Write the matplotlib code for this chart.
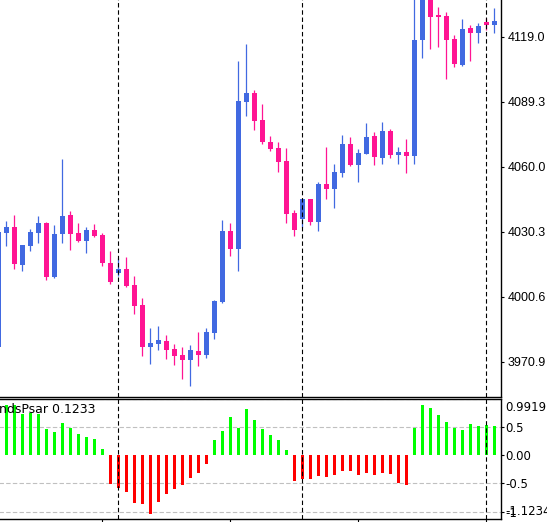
import numpy as np
import matplotlib.pyplot as plt

W, H = 547, 522

# candles, oldest first (first one is only partly visible at the left edge)
opens = [3977.6, 4029.8, 4032.5, 4015.2, 4023.9, 4029.8, 4034.3, 4009.7, 4029.4, 4037.9,
         4029.7, 4026.2, 4031.1, 4028.8, 4016.0, 4011.6, 4013.3, 4005.9, 3996.8, 3977.8,
         3979.1, 3980.4, 3976.7, 3974.0, 3971.8, 3975.8, 3974.1, 3984.2, 3998.3, 4030.6,
         4022.5, 4089.7, 4093.7, 4081.3, 4071.3, 4068.5, 4062.6, 4038.8, 4036.2, 4045.2,
         4034.9, 4052.1, 4050.0, 4057.3, 4070.4, 4060.9, 4065.9, 4074.0, 4064.1, 4076.3,
         4065.5, 4066.7, 4065.0, 4117.9, 4139.8, 4129.3, 4129.0, 4118.3, 4106.6, 4123.4,
         4121.2, 4126.1, 4124.9]
highs = [4031.0, 4035.2, 4037.9, 4024.2, 4031.5, 4037.5, 4034.7, 4033.4, 4063.5, 4039.8,
         4034.3, 4032.5, 4033.8, 4029.7, 4021.5, 4018.4, 4018.9, 4010.1, 4000.0, 3986.3,
         3987.2, 3983.1, 3979.0, 3977.6, 3978.5, 3984.5, 3986.3, 3999.1, 4035.6, 4034.3,
         4108.3, 4116.1, 4095.0, 4088.7, 4074.0, 4071.3, 4068.5, 4040.2, 4045.2, 4045.2,
         4053.0, 4069.0, 4061.2, 4074.5, 4073.6, 4068.1, 4080.0, 4075.9, 4080.4, 4077.2,
         4069.0, 4072.7, 4138.9, 4143.0, 4141.5, 4133.1, 4130.8, 4120.2, 4127.5, 4124.7,
         4125.7, 4127.9, 4132.5]
lows = [3977.0, 4023.9, 4013.4, 4012.5, 4021.6, 4025.3, 4008.4, 4009.3, 4025.3, 4022.1,
        4025.7, 4020.7, 4028.0, 4014.8, 4006.5, 4010.2, 4005.2, 3992.8, 3973.6, 3970.0,
        3976.4, 3972.3, 3969.5, 3963.1, 3959.9, 3969.1, 3972.7, 3981.4, 3997.9, 4019.3,
        4012.5, 4083.3, 4076.9, 4070.5, 4067.3, 4057.7, 4034.4, 4028.5, 4032.6, 4033.5,
        4030.8, 4045.2, 4041.3, 4055.4, 4060.5, 4053.1, 4065.9, 4060.9, 4061.4, 4064.1,
        4061.4, 4057.3, 4061.4, 4109.8, 4113.9, 4114.8, 4100.2, 4105.7, 4106.2, 4108.4,
        4116.7, 4122.6, 4121.2]
closes = [4030.2, 4032.5, 4015.7, 4024.2, 4030.2, 4034.3, 4009.7, 4029.3, 4037.5, 4029.4,
          4026.2, 4031.1, 4028.5, 4016.1, 4007.5, 4013.3, 4005.6, 3996.5, 3977.8, 3979.4,
          3980.8, 3976.4, 3973.6, 3971.8, 3976.2, 3974.1, 3984.5, 3998.6, 4030.6, 4022.5,
          4090.0, 4093.7, 4081.0, 4071.4, 4068.2, 4062.3, 4038.5, 4031.2, 4045.2, 4034.9,
          4052.1, 4050.0, 4057.6, 4070.4, 4060.9, 4066.3, 4073.6, 4064.6, 4076.3, 4065.5,
          4066.7, 4065.0, 4117.9, 4139.8, 4128.5, 4128.6, 4117.9, 4107.1, 4122.9, 4121.2,
          4124.3, 4124.9, 4126.6]

# oscillator histogram, one value per candle
psar_values = [0.88, 0.88, 0.88, 0.73, 0.74, 0.73, 0.46, 0.41, 0.57, 0.48,
               0.37, 0.32, 0.28, 0.10, -0.51, -0.59, -0.66, -0.85, -0.87, -1.05,
               -0.84, -0.69, -0.60, -0.53, -0.41, -0.32, -0.16, 0.26, 0.43, 0.67,
               0.48, 0.82, 0.62, 0.46, 0.35, 0.26, 0.09, -0.46, -0.43, -0.43,
               -0.37, -0.39, -0.35, -0.28, -0.28, -0.35, -0.32, -0.35, -0.32, -0.34,
               -0.50, -0.53, 0.48, 0.89, 0.84, 0.71, 0.59, 0.48, 0.44, 0.55,
               0.51, 0.53, 0.52]

price_levels = [3970.9, 4000.6, 4030.3, 4060.0, 4089.7, 4119.4]
price_labels = ["3970.9", "4000.6", "4030.3", "4060.0", "4089.3", "4119.0"]
osc_grid = [0.9919, 0.5, -0.5, -1.0]
osc_ticks = [0.5, 0.0, -0.5, -1.0]
osc_tick_labels = ["0.5", "0.00", "-0.5", "-1"]
osc_max, osc_min = 0.9919, -1.1234
day_breaks = [15, 38, 61]
time_ticks = [13, 29, 45, 61]
indicator_name = "ndsPsar 0.1233"

BULL = "#4169E1"
BEAR = "#FF1493"


def px_box(left, top, right, bottom):
    return [left / W, 1 - bottom / H, (right - left) / W, (bottom - top) / H]


plt.rcParams['font.family'] = ['DejaVu Sans']
fig = plt.figure(figsize=(W / 100, H / 100), dpi=100)

ax = fig.add_axes(px_box(-2, -2, 501, 396.5))
ax2 = fig.add_axes(px_box(-2, 398.5, 501, 518.7))

x = np.arange(len(opens))
o = np.array(opens)
c = np.array(closes)
colors = [BULL if cc >= oo else BEAR for oo, cc in zip(opens, closes)]
body_low = np.minimum(o, c)
body_h = np.maximum(np.abs(c - o), 0.5)

ax.vlines(x, lows, highs, colors=colors, linewidth=0.9, zorder=2)
ax.bar(x, body_h, bottom=body_low, width=0.625, color=colors, linewidth=0, zorder=3)

hist_colors = ["#00FF00" if v > 0 else "#FF0000" for v in psar_values]
ax2.bar(x, psar_values, width=0.375, color=hist_colors, linewidth=0, zorder=3)
for lvl in osc_grid:
    ax2.axhline(lvl, color="#C0C0C0", linewidth=0.8, linestyle=(0, (4, 2)), zorder=1)

for a in (ax, ax2):
    a.set_xlim(-0.0375, 62.8375)
    for d in day_breaks:
        a.axvline(d, color="black", linewidth=0.8, linestyle=(0, (4, 2.5)), zorder=4)
    for s in a.spines.values():
        s.set_linewidth(1.0)

ax.set_ylim(3955.0, 4137.1)
ax.set_xticks([])
ax.yaxis.tick_right()
ax.set_yticks(price_levels)
ax.set_yticklabels(price_labels, fontfamily="Liberation Sans")
ax.tick_params(axis="y", direction="out", length=2.2, width=0.8, pad=2.7, labelsize=9)

ax2.set_ylim(-1.127, 1.0)
ax2.set_xticks(time_ticks)
ax2.tick_params(axis="x", direction="out", length=2.5, width=0.8, labelbottom=False)
ax2.yaxis.tick_right()
ax2.set_yticks(osc_ticks)
ax2.set_yticklabels(osc_tick_labels)
ax2.tick_params(axis="y", direction="out", length=2.2, width=0.8, pad=0.8, labelsize=8.5)

ax2.annotate(f"{osc_max:.4f}", xy=(1, osc_max), xycoords=("axes fraction", "data"),
             xytext=(2.9, -1.5), textcoords="offset points", va="top", ha="left", fontsize=8.5)
ax2.annotate(f"{osc_min:.4f}", xy=(1, osc_min), xycoords=("axes fraction", "data"),
             xytext=(2.9, 0.7), textcoords="offset points", va="bottom", ha="left", fontsize=8.5)
ax2.annotate(indicator_name, xy=(0, 1), xycoords="axes fraction",
             xytext=(0.7, -3), textcoords="offset points", va="top", ha="left", fontsize=9)

fig.savefig("out.png", dpi=100)
